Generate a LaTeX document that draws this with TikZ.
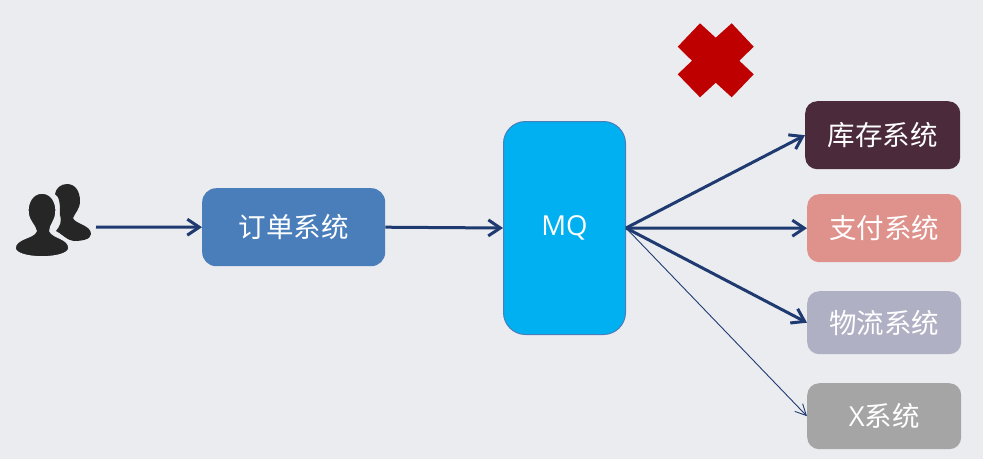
\documentclass[tikz,border=0pt]{standalone}
\usepackage{fontspec}
\setmainfont{Noto Sans CJK SC}
\newfontfamily\latinf{Open Sans}
\usetikzlibrary{arrows.meta}
\definecolor{bgc}{HTML}{EAECF0}
\definecolor{navy}{HTML}{1F3A70}
\definecolor{iconc}{HTML}{262626}
\tikzset{
  box/.style={text=white,font=\fontsize{27.5}{32}\selectfont,inner sep=0pt,anchor=north west},
  flow/.style={draw=navy,line width=3pt,-{Straight Barb[length=12pt,width=16pt,line width=3pt]}},
  thinflow/.style={draw=navy,line width=0.9pt,-{Straight Barb[length=11pt,width=11pt,line width=0.9pt]}},
}
\begin{document}
\begin{tikzpicture}[x=1pt,y=-1pt]
\fill[bgc] (0,0) rectangle (983,459);
\useasboundingbox (0,0) rectangle (983,459);
% back person
\fill[iconc] (67,184) .. controls (75,184) and (80,191) .. (80,201)
  .. controls (80,209) and (75,213) .. (73,218)
  .. controls (75,224) and (91,225) .. (91,234)
  .. controls (91,240) and (80,241) .. (74,241)
  .. controls (68,241) and (62,234) .. (56,231)
  .. controls (60,226) and (62,222) .. (60,215)
  .. controls (60,205) and (60,197) .. (55,194)
  .. controls (56,188) and (61,184) .. (67,184) -- cycle;
% front person
\fill[iconc,draw=bgc,line width=1.6pt] (42,193) .. controls (52,193) and (57,203) .. (56,213)
  .. controls (55,222) and (50,225) .. (50,231)
  .. controls (53,238) and (69,238) .. (69,248)
  .. controls (69,254) and (55,257) .. (42,257)
  .. controls (29,257) and (15,254) .. (15,248)
  .. controls (15,238) and (34,238) .. (36,231)
  .. controls (35,225) and (29,222) .. (28,213)
  .. controls (27,203) and (32,193) .. (42,193) -- cycle;
% red cross
\fill[red!75!black] (700,23.3) -- (715.7,37.7) -- (731.7,23.3) -- (753.7,46.7) -- (739.3,60.7) -- (753.7,74.3) -- (731.7,97.3) -- (715.7,82.7) -- (700,97.3) -- (677.7,74.3) -- (692,60.7) -- (677.7,46.7) -- cycle;
% boxes
\node[box,fill={rgb,255:red,74;green,126;blue,187},rounded corners=14pt,minimum width=183pt,minimum height=78pt] (order) at (202,188) {订单系统};
\node[box,fill={rgb,255:red,0;green,176;blue,240},draw={rgb,255:red,74;green,126;blue,187},line width=1pt,rounded corners=22pt,minimum width=122pt,minimum height=213pt] (mq) at (503,121) {\latinf MQ};
\node[box,fill={rgb,255:red,75;green,42;blue,60},rounded corners=12pt,minimum width=155pt,minimum height=68pt] (stock) at (805,101) {库存系统};
\node[box,fill={rgb,255:red,223;green,145;blue,140},rounded corners=12pt,minimum width=154pt,minimum height=68pt] (pay) at (807,194) {支付系统};
\node[box,fill={rgb,255:red,176;green,176;blue,196},rounded corners=12pt,minimum width=154pt,minimum height=63pt] (logi) at (807,291) {物流系统};
\node[box,fill={rgb,255:red,165;green,165;blue,165},rounded corners=12pt,minimum width=154pt,minimum height=66pt] (xsys) at (807,383) {{\latinf X}系统};
% connectors
\coordinate (user) at (96,227);
\draw[flow] (user) -- (order.west);
\draw[flow] (order.east) -- (mq.west);
\draw[flow] (mq.east) -- (stock.west);
\draw[flow] (mq.east) -- (pay.west);
\draw[flow] (mq.east) -- (logi.west);
\draw[thinflow] (mq.east) -- (xsys.west);
\end{tikzpicture}
\end{document}
